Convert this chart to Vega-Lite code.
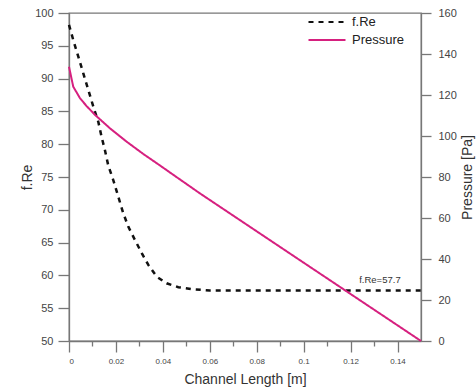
{
  "$schema": "https://vega.github.io/schema/vega-lite/v6.json",
  "width": 352,
  "height": 328,
  "autosize": {"type": "none"},
  "padding": {"left": 69, "top": 13, "right": 55, "bottom": 49},
  "background": "white",
  "config": {
    "font": "Liberation Sans",
    "view": {"stroke": "#777", "strokeWidth": 1.3},
    "axis": {
      "grid": false,
      "domainColor": "#777",
      "domainWidth": 1.3,
      "tickColor": "#777",
      "tickWidth": 1.3,
      "labelColor": "#444",
      "titleColor": "#333",
      "titleFontWeight": "normal",
      "titleFont": "Liberation Sans",
      "labelFont": "Liberation Sans",
      "titleFontSize": 14
    },
    "legend": {
      "orient": "none",
      "legendX": 251.5,
      "legendY": 2.5,
      "symbolType": "M-3.7,0H3.7",
      "symbolSize": 100,
      "symbolStrokeWidth": 2.2,
      "labelFontSize": 13,
      "labelOffset": 18.5,
      "labelColor": "#222",
      "rowPadding": 4,
      "padding": 0
    }
  },
  "data": {
    "values": [
      {"series": "f.Re", "x": 0, "value": 98.2},
      {"series": "f.Re", "x": 0.0018, "value": 95.9},
      {"series": "f.Re", "x": 0.004, "value": 93.3},
      {"series": "f.Re", "x": 0.0061, "value": 90.8},
      {"series": "f.Re", "x": 0.0082, "value": 88.3},
      {"series": "f.Re", "x": 0.0104, "value": 85.7},
      {"series": "f.Re", "x": 0.0125, "value": 83.4},
      {"series": "f.Re", "x": 0.0139, "value": 81.1},
      {"series": "f.Re", "x": 0.0153, "value": 79.1},
      {"series": "f.Re", "x": 0.0167, "value": 76.8},
      {"series": "f.Re", "x": 0.0189, "value": 74.5},
      {"series": "f.Re", "x": 0.021, "value": 72.0},
      {"series": "f.Re", "x": 0.0231, "value": 69.5},
      {"series": "f.Re", "x": 0.0253, "value": 67.4},
      {"series": "f.Re", "x": 0.0281, "value": 65.4},
      {"series": "f.Re", "x": 0.031, "value": 63.4},
      {"series": "f.Re", "x": 0.0338, "value": 61.6},
      {"series": "f.Re", "x": 0.0374, "value": 59.8},
      {"series": "f.Re", "x": 0.0416, "value": 58.8},
      {"series": "f.Re", "x": 0.0466, "value": 58.2},
      {"series": "f.Re", "x": 0.0523, "value": 57.9},
      {"series": "f.Re", "x": 0.06, "value": 57.7},
      {"series": "f.Re", "x": 0.1, "value": 57.7},
      {"series": "f.Re", "x": 0.15, "value": 57.7},
      {"series": "Pressure", "x": 0, "value": 133.8},
      {"series": "Pressure", "x": 0.0018, "value": 124.1},
      {"series": "Pressure", "x": 0.0047, "value": 118.4},
      {"series": "Pressure", "x": 0.0075, "value": 114.6},
      {"series": "Pressure", "x": 0.0111, "value": 110.3},
      {"series": "Pressure", "x": 0.0175, "value": 103.7},
      {"series": "Pressure", "x": 0.0246, "value": 97.2},
      {"series": "Pressure", "x": 0.0317, "value": 91.2},
      {"series": "Pressure", "x": 0.0388, "value": 85.6},
      {"series": "Pressure", "x": 0.0459, "value": 79.9},
      {"series": "Pressure", "x": 0.0558, "value": 72.0},
      {"series": "Pressure", "x": 0.1, "value": 38.2},
      {"series": "Pressure", "x": 0.15, "value": 0},
      {"series": "note", "x": 0.1325, "value": 57.7, "label": "f.Re=57.7"}
    ]
  },
  "encoding": {
    "x": {
      "field": "x",
      "type": "quantitative",
      "scale": {"domain": [0, 0.15], "nice": false, "zero": false},
      "axis": {
        "values": [0, 0.01, 0.02, 0.03, 0.04, 0.05, 0.06, 0.07, 0.08, 0.09, 0.1, 0.11, 0.12, 0.13, 0.14],
        "labelExpr": "round(datum.value*100)%2==0 ? format(datum.value,'~g') : ''",
        "tickSize": {"condition": {"test": "round(datum.value*100)%2==1", "value": 5}, "value": 11},
        "labelFontSize": 8,
        "labelPadding": 5,
        "title": "Channel Length [m]",
        "titlePadding": 7
      }
    }
  },
  "layer": [
    {
      "encoding": {
        "y": {
          "field": "value",
          "type": "quantitative",
          "scale": {"domain": [50, 100], "nice": false, "zero": false},
          "axis": {
            "orient": "left",
            "values": [50, 55, 60, 65, 70, 75, 80, 85, 90, 95, 100],
            "tickSize": 11,
            "labelFontSize": 11,
            "labelPadding": 5,
            "title": "f.Re",
            "titlePadding": 0
          }
        }
      },
      "layer": [
        {
          "transform": [{"filter": "datum.series == 'f.Re'"}],
          "mark": {"type": "line", "strokeWidth": 2.5},
          "encoding": {
            "color": {"field": "series", "type": "nominal", "title": null, "scale": {"domain": ["f.Re", "Pressure"], "range": ["#111111", "#d6207f"]}},
            "strokeDash": {"field": "series", "type": "nominal", "title": null, "scale": {"domain": ["f.Re", "Pressure"], "range": [[5, 5], [1, 0]]}}
          }
        },
        {
          "transform": [{"filter": "datum.series == 'note'"}],
          "mark": {"type": "text", "fontSize": 9.5, "color": "#333", "dy": -10, "font": "Liberation Sans"},
          "encoding": {"text": {"field": "label"}}
        }
      ]
    },
    {
      "transform": [{"filter": "datum.series == 'Pressure'"}],
      "mark": {"type": "line", "strokeWidth": 2},
      "encoding": {
        "y": {
          "field": "value",
          "type": "quantitative",
          "scale": {"domain": [0, 160], "nice": false},
          "axis": {
            "orient": "right",
            "values": [0, 20, 40, 60, 80, 100, 120, 140, 160],
            "tickSize": 10,
            "labelFontSize": 11,
            "labelPadding": 7,
            "title": "Pressure [Pa]",
            "titleAngle": 270,
            "titlePadding": 18
          }
        },
        "color": {"field": "series", "type": "nominal", "title": null, "scale": {"domain": ["f.Re", "Pressure"], "range": ["#111111", "#d6207f"]}},
        "strokeDash": {"field": "series", "type": "nominal", "title": null, "scale": {"domain": ["f.Re", "Pressure"], "range": [[5, 5], [1, 0]]}}
      }
    }
  ],
  "resolve": {"scale": {"y": "independent"}}
}
